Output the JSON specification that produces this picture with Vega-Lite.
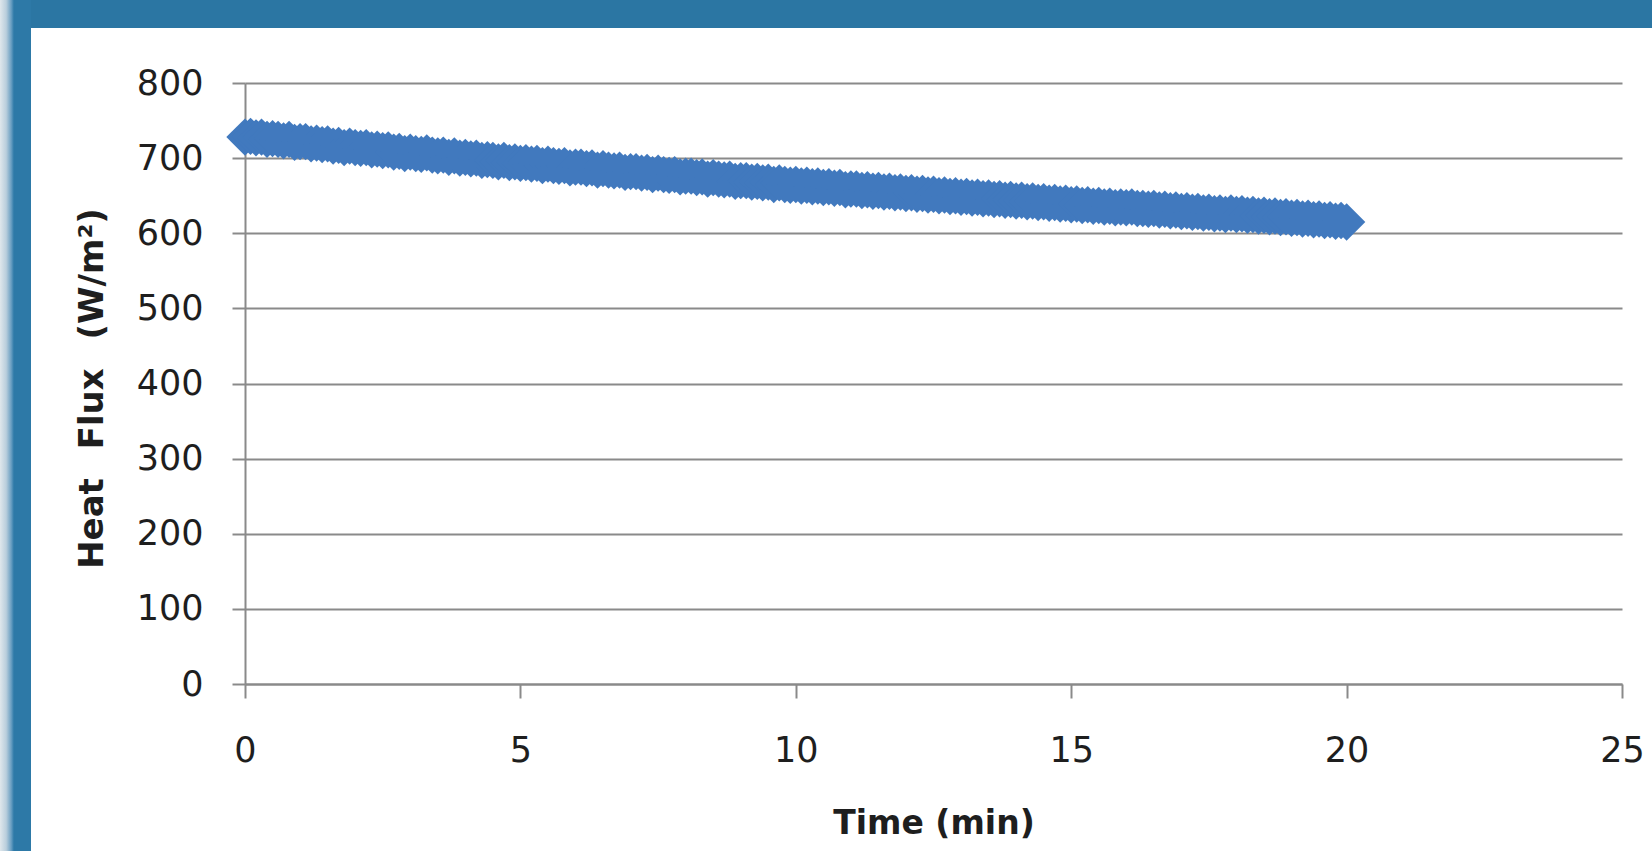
{
  "$schema": "https://vega.github.io/schema/vega-lite/v6.json",
  "background": "white",
  "padding": 0,
  "config": {"view": {"stroke": null}},
  "spacing": 0,
  "bounds": "flush",
  "hconcat": [
    {
      "width": 31,
      "height": 851,
      "data": {"values": [{}]},
      "mark": {"type": "rect", "color": {"gradient": "linear", "x1": 0, "x2": 1, "y1": 0, "y2": 0, "stops": [{"offset": 0, "color": "#dfe7ec"}, {"offset": 0.2, "color": "#b9cedc"}, {"offset": 0.36, "color": "#6a9fc2"}, {"offset": 0.45, "color": "#2d79a7"}, {"offset": 1, "color": "#2d79a7"}]}},
      "encoding": {}
    },
    {
      "spacing": 55,
      "bounds": "flush",
      "vconcat": [
        {
          "width": 1621,
          "height": 28,
          "data": {"values": [{}]},
          "mark": {"type": "rect", "color": "#2b76a3"},
          "encoding": {}
        },
        {
          "spacing": 213,
          "bounds": "flush",
          "hconcat": [
            {
              "width": 1,
              "height": 601,
              "data": {"values": [{}]},
              "mark": {"type": "rect", "opacity": 0},
              "encoding": {}
            },
            {
              "width": 1377,
              "height": 601,
              "data": {"values": [
                {"time": 0.0, "flux": 728}, {"time": 0.1, "flux": 729}, {"time": 0.2, "flux": 727}, {"time": 0.3, "flux": 728}, {"time": 0.4, "flux": 725},
                {"time": 0.5, "flux": 726}, {"time": 0.6, "flux": 725}, {"time": 0.7, "flux": 723}, {"time": 0.8, "flux": 725}, {"time": 0.9, "flux": 721},
                {"time": 1.0, "flux": 722}, {"time": 1.1, "flux": 722}, {"time": 1.2, "flux": 719}, {"time": 1.3, "flux": 720}, {"time": 1.4, "flux": 718},
                {"time": 1.5, "flux": 719}, {"time": 1.6, "flux": 716}, {"time": 1.7, "flux": 717}, {"time": 1.8, "flux": 714}, {"time": 1.9, "flux": 716},
                {"time": 2.0, "flux": 714}, {"time": 2.1, "flux": 713}, {"time": 2.2, "flux": 714}, {"time": 2.3, "flux": 711}, {"time": 2.4, "flux": 712},
                {"time": 2.5, "flux": 710}, {"time": 2.6, "flux": 711}, {"time": 2.7, "flux": 708}, {"time": 2.8, "flux": 709}, {"time": 2.9, "flux": 706},
                {"time": 3.0, "flux": 708}, {"time": 3.1, "flux": 706}, {"time": 3.2, "flux": 705}, {"time": 3.3, "flux": 707}, {"time": 3.4, "flux": 704},
                {"time": 3.5, "flux": 703}, {"time": 3.6, "flux": 704}, {"time": 3.7, "flux": 701}, {"time": 3.8, "flux": 703}, {"time": 3.9, "flux": 700},
                {"time": 4.0, "flux": 701}, {"time": 4.1, "flux": 699}, {"time": 4.2, "flux": 700}, {"time": 4.3, "flux": 697}, {"time": 4.4, "flux": 698},
                {"time": 4.5, "flux": 697}, {"time": 4.6, "flux": 695}, {"time": 4.7, "flux": 697}, {"time": 4.8, "flux": 694}, {"time": 4.9, "flux": 695},
                {"time": 5.0, "flux": 693}, {"time": 5.1, "flux": 694}, {"time": 5.2, "flux": 692}, {"time": 5.3, "flux": 693}, {"time": 5.4, "flux": 690},
                {"time": 5.5, "flux": 692}, {"time": 5.6, "flux": 690}, {"time": 5.7, "flux": 689}, {"time": 5.8, "flux": 690}, {"time": 5.9, "flux": 687},
                {"time": 6.0, "flux": 688}, {"time": 6.1, "flux": 688}, {"time": 6.2, "flux": 686}, {"time": 6.3, "flux": 687}, {"time": 6.4, "flux": 684},
                {"time": 6.5, "flux": 686}, {"time": 6.6, "flux": 684}, {"time": 6.7, "flux": 683}, {"time": 6.8, "flux": 684}, {"time": 6.9, "flux": 681},
                {"time": 7.0, "flux": 682}, {"time": 7.1, "flux": 682}, {"time": 7.2, "flux": 680}, {"time": 7.3, "flux": 681}, {"time": 7.4, "flux": 678},
                {"time": 7.5, "flux": 680}, {"time": 7.6, "flux": 678}, {"time": 7.7, "flux": 677}, {"time": 7.8, "flux": 678}, {"time": 7.9, "flux": 675},
                {"time": 8.0, "flux": 676}, {"time": 8.1, "flux": 676}, {"time": 8.2, "flux": 674}, {"time": 8.3, "flux": 675}, {"time": 8.4, "flux": 672},
                {"time": 8.5, "flux": 674}, {"time": 8.6, "flux": 672}, {"time": 8.7, "flux": 671}, {"time": 8.8, "flux": 672}, {"time": 8.9, "flux": 669},
                {"time": 9.0, "flux": 670}, {"time": 9.1, "flux": 670}, {"time": 9.2, "flux": 668}, {"time": 9.3, "flux": 669}, {"time": 9.4, "flux": 667},
                {"time": 9.5, "flux": 668}, {"time": 9.6, "flux": 665}, {"time": 9.7, "flux": 667}, {"time": 9.8, "flux": 665}, {"time": 9.9, "flux": 664},
                {"time": 10.0, "flux": 665}, {"time": 10.1, "flux": 663}, {"time": 10.2, "flux": 664}, {"time": 10.3, "flux": 662}, {"time": 10.4, "flux": 663},
                {"time": 10.5, "flux": 661}, {"time": 10.6, "flux": 662}, {"time": 10.7, "flux": 660}, {"time": 10.8, "flux": 661}, {"time": 10.9, "flux": 658},
                {"time": 11.0, "flux": 659}, {"time": 11.1, "flux": 659}, {"time": 11.2, "flux": 657}, {"time": 11.3, "flux": 658}, {"time": 11.4, "flux": 656},
                {"time": 11.5, "flux": 657}, {"time": 11.6, "flux": 655}, {"time": 11.7, "flux": 656}, {"time": 11.8, "flux": 654}, {"time": 11.9, "flux": 655},
                {"time": 12.0, "flux": 653}, {"time": 12.1, "flux": 654}, {"time": 12.2, "flux": 652}, {"time": 12.3, "flux": 653}, {"time": 12.4, "flux": 651},
                {"time": 12.5, "flux": 652}, {"time": 12.6, "flux": 650}, {"time": 12.7, "flux": 651}, {"time": 12.8, "flux": 649}, {"time": 12.9, "flux": 650},
                {"time": 13.0, "flux": 648}, {"time": 13.1, "flux": 649}, {"time": 13.2, "flux": 647}, {"time": 13.3, "flux": 648}, {"time": 13.4, "flux": 646},
                {"time": 13.5, "flux": 647}, {"time": 13.6, "flux": 645}, {"time": 13.7, "flux": 646}, {"time": 13.8, "flux": 644}, {"time": 13.9, "flux": 645},
                {"time": 14.0, "flux": 643}, {"time": 14.1, "flux": 644}, {"time": 14.2, "flux": 642}, {"time": 14.3, "flux": 643}, {"time": 14.4, "flux": 641},
                {"time": 14.5, "flux": 642}, {"time": 14.6, "flux": 640}, {"time": 14.7, "flux": 641}, {"time": 14.8, "flux": 639}, {"time": 14.9, "flux": 640},
                {"time": 15.0, "flux": 638}, {"time": 15.1, "flux": 639}, {"time": 15.2, "flux": 637}, {"time": 15.3, "flux": 638}, {"time": 15.4, "flux": 636},
                {"time": 15.5, "flux": 637}, {"time": 15.6, "flux": 635}, {"time": 15.7, "flux": 636}, {"time": 15.8, "flux": 634}, {"time": 15.9, "flux": 635},
                {"time": 16.0, "flux": 634}, {"time": 16.1, "flux": 635}, {"time": 16.2, "flux": 633}, {"time": 16.3, "flux": 633}, {"time": 16.4, "flux": 632},
                {"time": 16.5, "flux": 633}, {"time": 16.6, "flux": 631}, {"time": 16.7, "flux": 632}, {"time": 16.8, "flux": 630}, {"time": 16.9, "flux": 631},
                {"time": 17.0, "flux": 629}, {"time": 17.1, "flux": 630}, {"time": 17.2, "flux": 628}, {"time": 17.3, "flux": 629}, {"time": 17.4, "flux": 627},
                {"time": 17.5, "flux": 628}, {"time": 17.6, "flux": 626}, {"time": 17.7, "flux": 627}, {"time": 17.8, "flux": 625}, {"time": 17.9, "flux": 627},
                {"time": 18.0, "flux": 625}, {"time": 18.1, "flux": 626}, {"time": 18.2, "flux": 624}, {"time": 18.3, "flux": 625}, {"time": 18.4, "flux": 623},
                {"time": 18.5, "flux": 624}, {"time": 18.6, "flux": 622}, {"time": 18.7, "flux": 623}, {"time": 18.8, "flux": 621}, {"time": 18.9, "flux": 622},
                {"time": 19.0, "flux": 620}, {"time": 19.1, "flux": 621}, {"time": 19.2, "flux": 619}, {"time": 19.3, "flux": 620}, {"time": 19.4, "flux": 618},
                {"time": 19.5, "flux": 619}, {"time": 19.6, "flux": 617}, {"time": 19.7, "flux": 618}, {"time": 19.8, "flux": 616}, {"time": 19.9, "flux": 617},
                {"time": 20.0, "flux": 615}
              ]},
              "mark": {"type": "point", "shape": "diamond", "filled": true, "size": 1400, "color": "#4179be", "opacity": 1, "strokeWidth": 0},
              "encoding": {
                "x": {
                  "field": "time", "type": "quantitative",
                  "scale": {"domain": [0, 25], "nice": false, "zero": false},
                  "axis": {
                    "title": "Time (min)",
                    "values": [0, 5, 10, 15, 20, 25],
                    "grid": false,
                    "domainColor": "#8a8a8a", "domainWidth": 2,
                    "tickColor": "#8a8a8a", "tickWidth": 2, "tickSize": 14,
                    "labelFont": "DejaVu Sans", "labelFontSize": 35, "labelColor": "#1e1e1e",
                    "labelBaseline": "alphabetic", "labelPadding": 63, "labelFlush": false, "labelOverlap": false,
                    "titleFont": "DejaVu Sans", "titleFontSize": 33, "titleFontWeight": "bold", "titleColor": "#1e1e1e",
                    "titleBaseline": "alphabetic", "titleY": 149
                  }
                },
                "y": {
                  "field": "flux", "type": "quantitative",
                  "scale": {"domain": [0, 800], "nice": false},
                  "axis": {
                    "title": "Heat \u2002Flux \u2002(W/m²)",
                    "values": [0, 100, 200, 300, 400, 500, 600, 700, 800],
                    "grid": true, "gridColor": "#8a8a8a", "gridWidth": 2,
                    "domainColor": "#8a8a8a", "domainWidth": 2,
                    "tickColor": "#8a8a8a", "tickWidth": 2, "tickSize": 13,
                    "labelFont": "DejaVu Sans", "labelFontSize": 35, "labelColor": "#1e1e1e",
                    "labelPadding": 29, "labelFlush": false, "labelOverlap": false,
                    "titleFont": "DejaVu Sans", "titleFontSize": 34, "titleFontWeight": "bold", "titleColor": "#1e1e1e",
                    "titleBaseline": "middle", "titleX": -153, "titleY": 305
                  }
                }
              }
            }
          ]
        }
      ]
    }
  ]
}
